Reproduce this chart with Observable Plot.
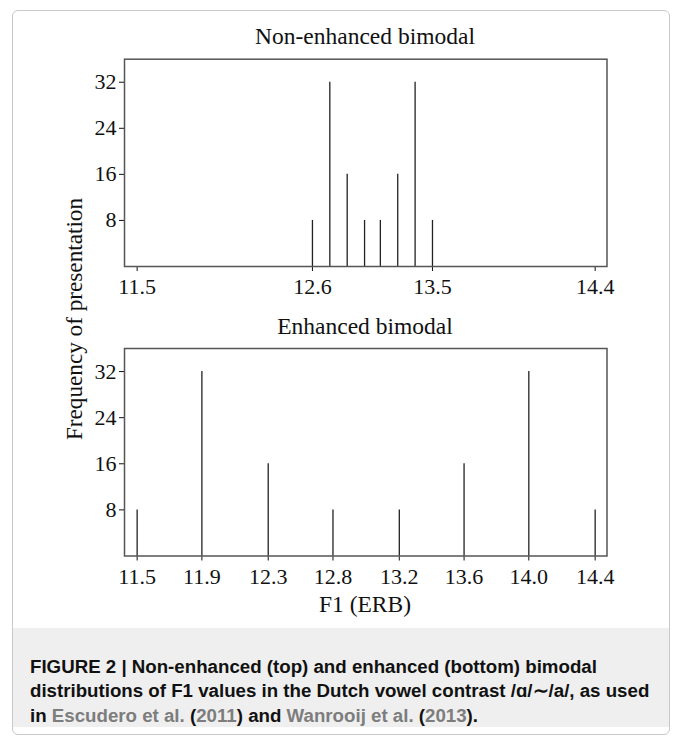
<!DOCTYPE html>
<html>
<head>
<meta charset="utf-8">
<script src="https://cdn.jsdelivr.net/npm/d3@7"></script>
<script src="https://cdn.jsdelivr.net/npm/@observablehq/plot@0.6"></script>
<style>
  html, body { margin: 0; padding: 0; background: #ffffff; }
  body { width: 673px; height: 740px; position: relative; overflow: hidden; }
  #box { position: absolute; left: 12px; top: 10px; width: 658px; height: 725px;
         border: 1.5px solid #c9c9c9; border-radius: 6px; box-sizing: border-box; }
  .ptitle { position: absolute; left: 124px; width: 482px; text-align: center;
            font-family: "Liberation Serif", serif; font-size: 23.5px; color: #111; line-height: 1; }
  #ylab { position: absolute; left: 75px; top: 319px; transform: translate(-50%, -50%) rotate(-90deg);
          font-family: "Liberation Serif", serif; font-size: 23.2px; color: #111; white-space: nowrap; line-height: 1; }
  #xlab { position: absolute; left: 124px; width: 482px; top: 593px; text-align: center;
          font-family: "Liberation Serif", serif; font-size: 23.5px; color: #111; line-height: 1; }
  #caption { position: absolute; left: 13px; top: 628px; width: 656px; height: 99px; background: #efefef;
             box-sizing: border-box; padding: 26.5px 0 0 17px;
             font-family: "Liberation Sans", Arial, sans-serif; font-weight: bold; font-size: 18.7px;
             line-height: 24.5px; color: #111; white-space: nowrap; }
  #caption .ref { color: #7d7d7d; }
  .panel { position: absolute; left: 0; }
</style>
</head>
<body>
<div id="box"></div>
<div class="ptitle" style="top:25px">Non-enhanced bimodal</div>
<div class="ptitle" style="top:315px">Enhanced bimodal</div>
<div id="ylab">Frequency of presentation</div>
<div id="xlab">F1 (ERB)</div>
<div id="top" class="panel" style="top:0px"></div>
<div id="bottom" class="panel" style="top:300px"></div>
<div id="caption">FIGURE 2 | Non-enhanced (top) and enhanced (bottom) bimodal<br>distributions of F1 values in the Dutch vowel contrast /ɑ/∼/a/, as used<br>in <span class="ref">Escudero et al.</span> (<span class="ref">2011</span>) and <span class="ref">Wanrooij et al.</span> (<span class="ref">2013</span>).</div>
<script>
// Non-enhanced bimodal (top panel)
const topF1 = [12.61, 12.72, 12.83, 12.94, 13.04, 13.15, 13.26, 13.37];
const topFreq = [8, 32, 16, 8, 8, 16, 32, 8];
const topTickValues = [11.50, 12.61, 13.37, 14.40];
const topTickLabels = ["11.5", "12.6", "13.5", "14.4"];

// Enhanced bimodal (bottom panel)
const bottomF1 = [11.50, 11.91, 12.33, 12.74, 13.16, 13.57, 13.98, 14.40];
const bottomFreq = [8, 32, 16, 8, 8, 16, 32, 8];
const bottomTickValues = [11.50, 11.91, 12.33, 12.74, 13.16, 13.57, 13.98, 14.40];
const bottomTickLabels = ["11.5", "11.9", "12.3", "12.8", "13.2", "13.6", "14.0", "14.4"];

const yTicks = [8, 16, 24, 32];
const xDomain = [11.42, 14.475];
const yDomain = [0, 36];

function panel(f1, freq, tickValues, tickLabels, height, mt, mb) {
  const data = f1.map((v, i) => ({f1: v, freq: freq[i]}));
  return Plot.plot({
    width: 673,
    height,
    marginLeft: 124,
    marginRight: 66.5,
    marginTop: mt,
    marginBottom: mb,
    style: {fontFamily: "'Liberation Serif', serif", fontSize: "22px", color: "#111", background: "transparent", overflow: "visible"},
    x: {domain: xDomain, ticks: tickValues, tickFormat: d => tickLabels[tickValues.indexOf(d)], tickSize: 5, tickPadding: 7, label: null},
    y: {domain: yDomain, ticks: yTicks, tickSize: 5, tickPadding: 3, label: null},
    marks: [
      Plot.ruleX(data, {x: "f1", y1: 0, y2: "freq", stroke: "#222", strokeWidth: 1.3}),
      Plot.frame({stroke: "#555", strokeWidth: 1.5})
    ]
  });
}

document.getElementById("top").appendChild(panel(topF1, topFreq, topTickValues, topTickLabels, 300, 58.7, 34));
document.getElementById("bottom").appendChild(panel(bottomF1, bottomFreq, bottomTickValues, bottomTickLabels, 300, 48, 44.5));
</script>
</body>
</html>
